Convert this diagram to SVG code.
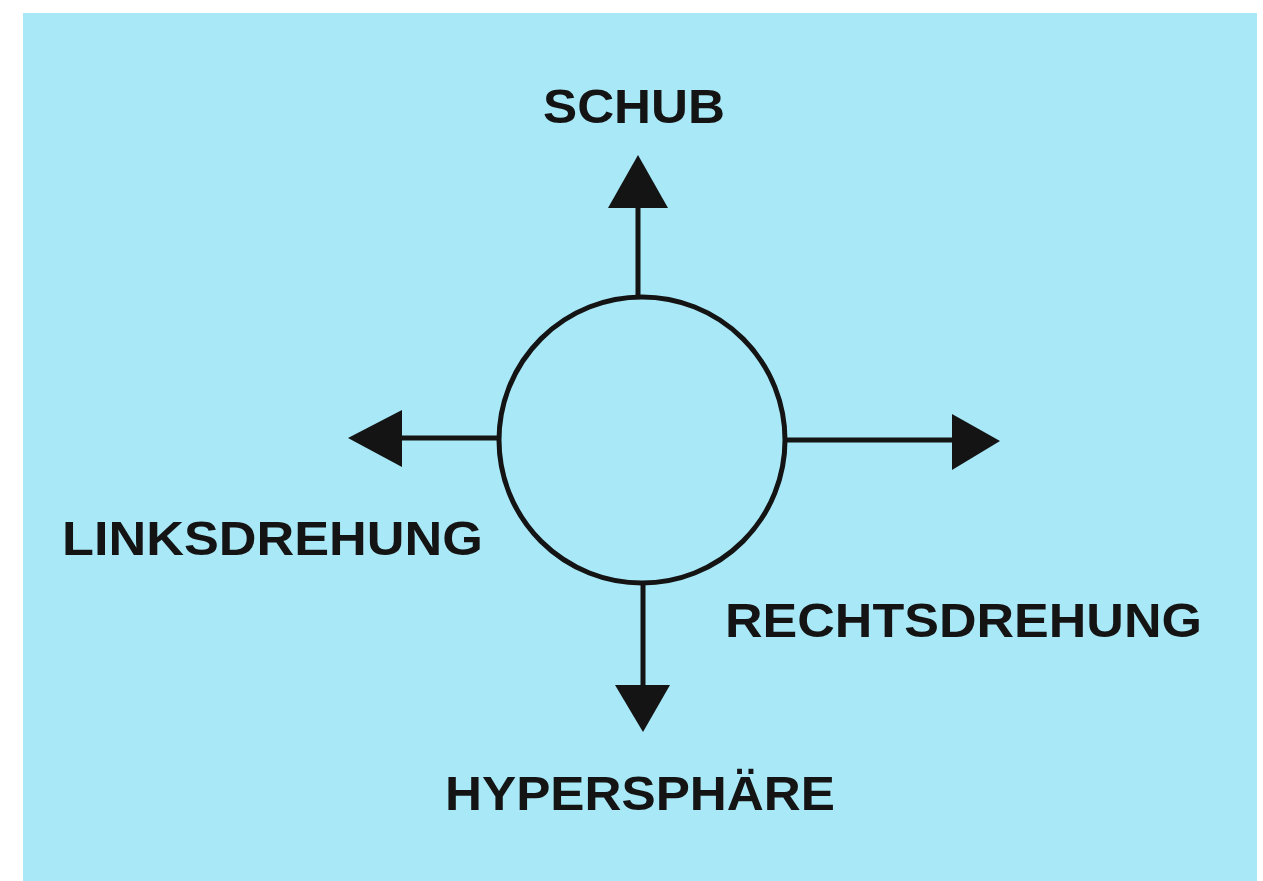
<svg xmlns="http://www.w3.org/2000/svg" width="1263" height="881" viewBox="0 0 1263 881">
<style>
.lbl{font-family:"Liberation Sans",Arial,sans-serif;font-weight:bold;font-size:49px;fill:#141414}
.ln{stroke:#141414;stroke-width:5;fill:none}
.hd{fill:#141414}
</style>
<rect x="0" y="0" width="1263" height="881" fill="#ffffff"/>
<rect x="23" y="13" width="1234" height="868" fill="#a8e8f7"/>
<g id="sphere">
<circle cx="642" cy="440" r="143" class="ln"/>
</g>
<g id="connectors">
<line x1="638" y1="297" x2="638" y2="205" class="ln"/>
<polygon points="638,155 668,208 608,208" class="hd"/>
<line x1="499" y1="438" x2="400" y2="438" class="ln"/>
<polygon points="348,438 402,410 402,467" class="hd"/>
<line x1="785" y1="440" x2="954" y2="440" class="ln"/>
<polygon points="1000,441 952,414 952,470" class="hd"/>
<line x1="643" y1="583" x2="643" y2="687" class="ln"/>
<polygon points="643,732 615,685 670,685" class="hd"/>
</g>
<g id="schub"><text class="lbl" x="543" y="123" textLength="182" lengthAdjust="spacingAndGlyphs">SCHUB</text></g>
<g id="linksdrehung"><text class="lbl" x="62" y="555" textLength="421" lengthAdjust="spacingAndGlyphs">LINKSDREHUNG</text></g>
<g id="rechtsdrehung"><text class="lbl" x="725" y="637" textLength="477" lengthAdjust="spacingAndGlyphs">RECHTSDREHUNG</text></g>
<g id="hypersphaere"><text class="lbl" x="445" y="810" textLength="390" lengthAdjust="spacingAndGlyphs">HYPERSPHÄRE</text></g>
</svg>
